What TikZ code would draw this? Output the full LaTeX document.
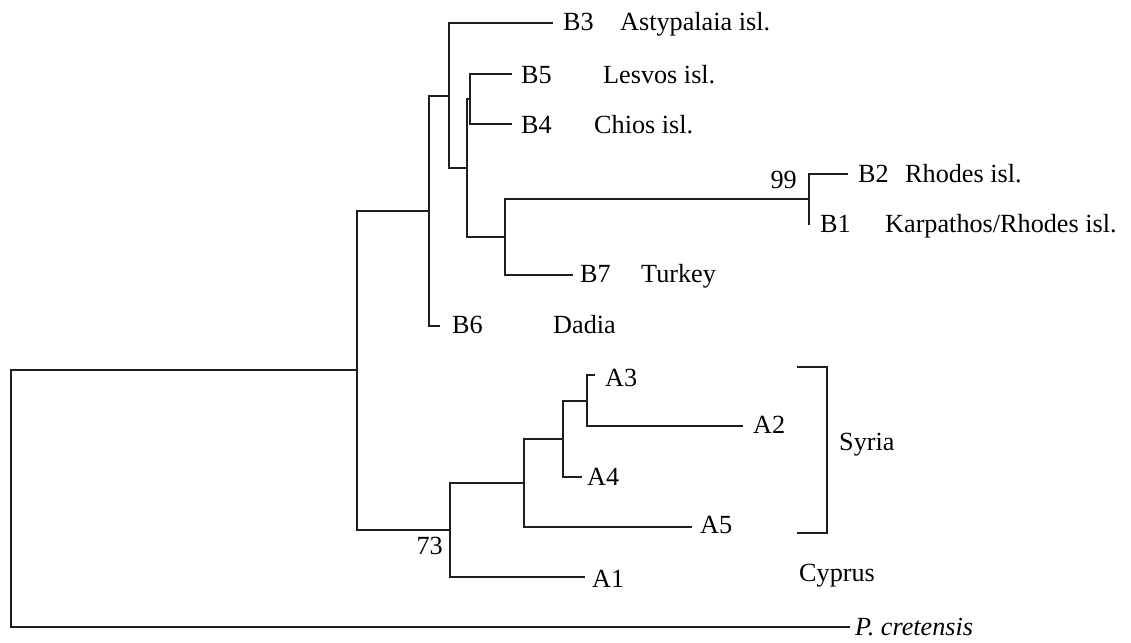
\documentclass[tikz,border=0pt]{standalone}
\usepackage{fontspec}
\setmainfont{Liberation Serif}
\begin{document}
\begin{tikzpicture}[x=1pt,y=-1pt,
  br/.style={line width=1.5pt, draw=black!88},
  lab/.style={anchor=base west, inner sep=0pt, font=\fontsize{26.2}{30}\selectfont},
  labe/.style={anchor=base east, inner sep=0pt, font=\fontsize{26.2}{30}\selectfont}]
\useasboundingbox (0,0) rectangle (1131,642);
% internal nodes
\coordinate (root) at (11,498);
\coordinate (nAB) at (357,370);
\coordinate (nB) at (429,211);
\coordinate (n1) at (449,96);
\coordinate (n2) at (467,168);
\coordinate (n45) at (470,99);
\coordinate (n7) at (505,237);
\coordinate (n12) at (809,199);
\coordinate (nA) at (450,530);
\coordinate (nA5) at (524,483);
\coordinate (n234) at (563,439);
\coordinate (n23) at (587,401);
% tips
\coordinate (tB3) at (553,23);
\coordinate (tB5) at (512,74);
\coordinate (tB4) at (512,124);
\coordinate (tB2) at (848,174);
\coordinate (tB1) at (809,225);
\coordinate (tB7) at (573,275);
\coordinate (tB6) at (440,326);
\coordinate (tA3) at (595,375);
\coordinate (tA2) at (743,426);
\coordinate (tA4) at (582,477);
\coordinate (tA5) at (692,527);
\coordinate (tA1) at (585,577);
\coordinate (tPc) at (850,627);
% branches
\draw[br] (root) |- (nAB);
\draw[br] (root) |- (tPc);
\draw[br] (nAB) |- (nB);
\draw[br] (nAB) |- (nA);
\draw[br] (nB) |- (n1);
\draw[br] (nB) |- (tB6);
\draw[br] (n1) |- (tB3);
\draw[br] (n1) |- (n2);
\draw[br] (n2) |- (n45);
\draw[br] (n2) |- (n7);
\draw[br] (n45) |- (tB5);
\draw[br] (n45) |- (tB4);
\draw[br] (n7) |- (n12);
\draw[br] (n7) |- (tB7);
\draw[br] (n12) |- (tB2);
\draw[br] (n12) |- (tB1);
\draw[br] (nA) |- (nA5);
\draw[br] (nA) |- (tA1);
\draw[br] (nA5) |- (n234);
\draw[br] (nA5) |- (tA5);
\draw[br] (n234) |- (n23);
\draw[br] (n234) |- (tA4);
\draw[br] (n23) |- (tA3);
\draw[br] (n23) |- (tA2);
% bracket
\coordinate (bt) at (797,367);
\coordinate (bb) at (797,533);
\draw[br] (bt) -| (827,450) |- (bb);
% labels
\node[lab] (lB3) at (563,31) {B3};
\node[lab] (pB3) at (620,31) {Astypalaia isl.};
\node[lab] (lB5) at (521,83) {B5};
\node[lab] (pB5) at (603,83) {Lesvos isl.};
\node[lab] (lB4) at (521,133) {B4};
\node[lab] (pB4) at (594,133) {Chios isl.};
\node[lab] (lB2) at (858,182) {B2};
\node[lab] (pB2) at (905,182) {Rhodes isl.};
\node[lab] (lB1) at (820,232) {B1};
\node[lab] (pB1) at (885,232) {Karpathos/Rhodes isl.};
\node[labe] (s99) at (797,188) {99};
\node[lab] (lB7) at (580,282) {B7};
\node[lab] (pB7) at (641,282) {Turkey};
\node[lab] (lB6) at (452,333) {B6};
\node[lab] (pB6) at (553,333) {Dadia};
\node[lab] (lA3) at (605,386) {A3};
\node[lab] (lA2) at (753,433) {A2};
\node[lab] (lA4) at (587,485) {A4};
\node[lab] (lA5) at (700,533) {A5};
\node[lab] (lA1) at (592,587) {A1};
\node[labe] (s73) at (443,554) {73};
\node[lab] (syr) at (839,450) {Syria};
\node[lab] (cyp) at (799,581) {Cyprus};
\node[lab] (lPc) at (855,635) {\itshape P. cretensis};
\end{tikzpicture}
\end{document}
